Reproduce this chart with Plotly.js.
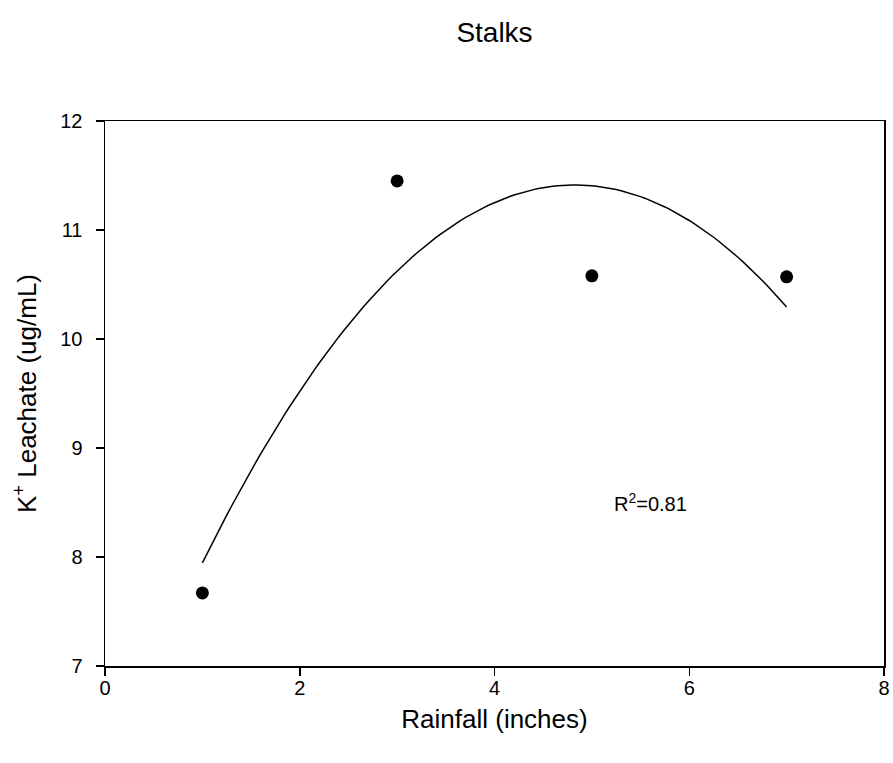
<!DOCTYPE html>
<html>
<head>
<meta charset="utf-8">
<script src="https://cdn.plot.ly/plotly-3.0.1.min.js"></script>
<style>html,body{margin:0;padding:0;background:#fff;}#chart{width:893px;height:763px;}</style>
</head>
<body>
<div id="chart"></div>
<script>
// Data
var rainfall = [1, 3, 5, 7];
var leachate = [7.67, 11.45, 10.58, 10.57];
var xTicks = [0, 2, 4, 6, 8];
var yTicks = [7, 8, 9, 10, 11, 12];
var r2Label = 'R<sup>2</sup>=0.81';

// Quadratic least-squares fit computed from the data
function quadFit(xs, ys) {
  var n = xs.length, S = [0,0,0,0,0], T = [0,0,0];
  for (var i = 0; i < n; i++) {
    var p = 1;
    for (var k = 0; k < 5; k++) { S[k] += p; if (k < 3) T[k] += p * ys[i]; p *= xs[i]; }
  }
  var A = [[S[0],S[1],S[2],T[0]],[S[1],S[2],S[3],T[1]],[S[2],S[3],S[4],T[2]]];
  for (var c = 0; c < 3; c++) {
    for (var r = c + 1; r < 3; r++) {
      var f = A[r][c] / A[c][c];
      for (var j = c; j < 4; j++) A[r][j] -= f * A[c][j];
    }
  }
  var coef = [0,0,0];
  for (var r2 = 2; r2 >= 0; r2--) {
    var s = A[r2][3];
    for (var j2 = r2 + 1; j2 < 3; j2++) s -= A[r2][j2] * coef[j2];
    coef[r2] = s / A[r2][r2];
  }
  return coef;
}
var coef = quadFit(rainfall, leachate);
var xMin = Math.min.apply(null, rainfall), xMax = Math.max.apply(null, rainfall);
var fitX = [], fitY = [];
for (var i = 0; i <= 120; i++) {
  var x = xMin + (xMax - xMin) * i / 120;
  fitX.push(x);
  fitY.push(coef[0] + coef[1] * x + coef[2] * x * x);
}

var font = 'Arial, "Liberation Sans", sans-serif';
var traces = [
  {x: fitX, y: fitY, mode: 'lines', line: {color: '#000', width: 1.5}, hoverinfo: 'skip'},
  {x: rainfall, y: leachate, mode: 'markers', marker: {color: '#000', size: 13}}
];
var layout = {
  width: 893, height: 763,
  margin: {l: 104.5, r: 8.5, t: 121, b: 96.5},
  paper_bgcolor: '#fff', plot_bgcolor: '#fff',
  showlegend: false,
  font: {family: font, color: '#000', size: 20},
  title: {text: 'Stalks', font: {family: font, size: 28, color: '#000'}, x: 0.5, xref: 'paper', y: 0.958, yanchor: 'middle'},
  xaxis: {
    range: [0, 8], tickvals: xTicks, ticktext: xTicks.map(String),
    showgrid: false, zeroline: false, showline: true, linecolor: '#000', linewidth: 1.5,
    mirror: true, ticks: 'outside', ticklen: 8, tickwidth: 1.5, tickcolor: '#000',
    tickfont: {family: font, size: 20}, ticklabelstandoff: -5,
    title: {text: 'Rainfall (inches)', font: {family: font, size: 26}, standoff: 12}
  },
  yaxis: {
    range: [7, 12], tickvals: yTicks, ticktext: yTicks.map(String),
    showgrid: false, zeroline: false, showline: true, linecolor: '#000', linewidth: 1.5,
    mirror: true, ticks: 'outside', ticklen: 8, tickwidth: 1.5, tickcolor: '#000',
    tickfont: {family: font, size: 20}, ticklabelstandoff: 9,
    title: {text: 'K<sup>+</sup> Leachate (ug/mL)', font: {family: font, size: 26}, standoff: 16}
  },
  annotations: [{
    x: 5.6, y: 8.5, xref: 'x', yref: 'y', text: r2Label, showarrow: false,
    font: {family: font, size: 20, color: '#000'}
  }]
};
Plotly.newPlot('chart', traces, layout, {displayModeBar: false, staticPlot: true});
</script>
</body>
</html>
